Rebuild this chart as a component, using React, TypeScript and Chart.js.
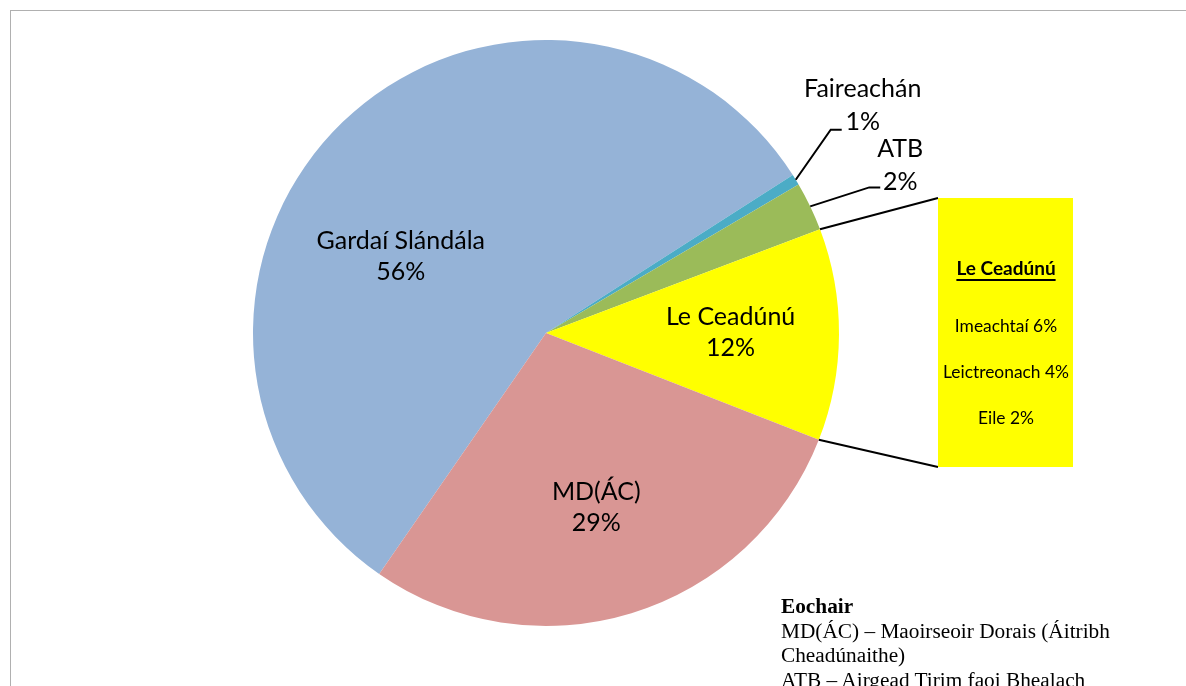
import React, { useEffect, useRef } from "react";
import { Chart, registerables } from "chart.js";

Chart.register(...registerables);

// ---- data ----
const categories = ["Gardaí Slándála", "Faireachán", "ATB", "Le Ceadúnú", "MD(ÁC)"];
const shares = [56.3, 0.6, 2.7, 11.7, 28.7];
const shareLabels = ["56%", "1%", "2%", "12%", "29%"];
const colours = ["#95B3D7", "#4BACC6", "#9BBB59", "#FFFF00", "#D99694"];
const breakdownTitle = "Le Ceadúnú";
const breakdownItems = ["Imeachtaí 6%", "Leictreonach 4%", "Eile 2%"];
const keyTitle = "Eochair";
const keyLines = [
  "MD(ÁC) – Maoirseoir Dorais (Áitribh",
  "Cheadúnaithe)",
  "ATB – Airgead Tirim faoi Bhealach",
];

const FONT = "Lato, 'Open Sans', sans-serif";

// label placement: inside labels by radius fraction & angle shift (deg); outside by leader offsets
const inside: Record<number, { f: number; d: number }> = {
  0: { f: 0.56, d: -18.3 },
  3: { f: 0.63, d: -0.6 },
  4: { f: 0.62, d: 0.9 },
};
const outside: Record<number, { ex: number; ey: number; hx: number; tx: number; ty: number }> = {
  1: { ex: 35, ey: -50, hx: 11, tx: 67, ty: -91 },
  2: { ex: 59, ey: -19, hx: 11, tx: 90, ty: -57 },
};

const BOX = { x: 938, y: 198, w: 135, h: 269 };

const labelPlugin = {
  id: "pieLabels",
  afterDraw(chart: any) {
    const ctx = chart.ctx as CanvasRenderingContext2D;
    const meta = chart.getDatasetMeta(0);
    ctx.save();
    ctx.fillStyle = "#000";
    ctx.strokeStyle = "#000";
    ctx.lineWidth = 2;
    ctx.textAlign = "center";
    ctx.textBaseline = "middle";
    ctx.font = `25px ${FONT}`;
    meta.data.forEach((arc: any, i: number) => {
      const p = arc.getProps(["x", "y", "startAngle", "endAngle", "outerRadius"], true);
      const mid = (p.startAngle + p.endAngle) / 2;
      if (inside[i]) {
        const a = mid + (inside[i].d * Math.PI) / 180;
        const r = p.outerRadius * inside[i].f;
        const cx = p.x + r * Math.cos(a);
        const cy = p.y + r * Math.sin(a);
        ctx.fillText(categories[i], cx, cy - 15.5);
        ctx.fillText(shareLabels[i], cx, cy + 15.5);
      } else if (outside[i]) {
        const o = outside[i];
        const sx = p.x + p.outerRadius * Math.cos(mid);
        const sy = p.y + p.outerRadius * Math.sin(mid);
        ctx.beginPath();
        ctx.moveTo(sx, sy);
        ctx.lineTo(sx + o.ex, sy + o.ey);
        ctx.lineTo(sx + o.ex + o.hx, sy + o.ey);
        ctx.stroke();
        const tx = sx + o.tx;
        const ty = sy + o.ty;
        ctx.fillText(categories[i], tx, ty);
        ctx.fillText(shareLabels[i], tx, ty + 33);
      }
    });
    // breakdown box for Le Ceadúnú
    const lc = meta.data[3].getProps(["x", "y", "startAngle", "endAngle", "outerRadius"], true);
    const p1x = lc.x + lc.outerRadius * Math.cos(lc.startAngle);
    const p1y = lc.y + lc.outerRadius * Math.sin(lc.startAngle);
    const p2x = lc.x + lc.outerRadius * Math.cos(lc.endAngle);
    const p2y = lc.y + lc.outerRadius * Math.sin(lc.endAngle);
    ctx.beginPath();
    ctx.moveTo(p1x, p1y);
    ctx.lineTo(BOX.x, BOX.y);
    ctx.moveTo(p2x, p2y);
    ctx.lineTo(BOX.x, BOX.y + BOX.h);
    ctx.stroke();
    ctx.fillStyle = colours[3];
    ctx.fillRect(BOX.x, BOX.y, BOX.w, BOX.h);
    ctx.fillStyle = "#000";
    const bx = BOX.x + BOX.w / 2 + 0.5;
    ctx.font = `bold 19px ${FONT}`;
    ctx.fillText(breakdownTitle, bx, 269);
    const tw = ctx.measureText(breakdownTitle).width;
    ctx.fillRect(bx - tw / 2, 279, tw, 2);
    ctx.font = `17.4px ${FONT}`;
    breakdownItems.forEach((t, k) => ctx.fillText(t, bx, 326 + k * 46));
    ctx.restore();
  },
};

export default function App() {
  const ref = useRef<HTMLCanvasElement>(null);
  useEffect(() => {
    const chart = new Chart(ref.current!, {
      type: "pie",
      data: {
        labels: categories,
        datasets: [
          {
            data: shares,
            backgroundColor: colours,
            borderWidth: 0,
          },
        ],
      },
      options: {
        animation: false,
        responsive: false,
        rotation: 214.7,
        layout: { padding: { top: 40, bottom: 60, left: 253, right: 347 } },
        plugins: {
          legend: { display: false },
          title: { display: false },
          tooltip: { enabled: false },
        },
      },
      plugins: [labelPlugin],
    });
    return () => chart.destroy();
  }, []);

  return (
    <div
      style={{
        position: "fixed",
        left: 0,
        top: 0,
        width: 1186,
        height: 686,
        overflow: "hidden",
        background: "#fff",
      }}
    >
      <div
        style={{
          position: "absolute",
          left: 10,
          top: 10,
          width: 1300,
          height: 900,
          border: "1px solid #b0b0b0",
        }}
      />
      <canvas
        ref={ref}
        width={1186}
        height={686}
        style={{ position: "absolute", left: 0, top: 0, width: 1186, height: 686 }}
      />
      <div
        style={{
          position: "absolute",
          left: 781,
          top: 594,
          fontFamily: "'Liberation Serif', 'Times New Roman', serif",
          fontSize: 21.3,
          lineHeight: "24.5px",
          color: "#000",
          whiteSpace: "nowrap",
        }}
      >
        <div style={{ fontWeight: "bold" }}>{keyTitle}</div>
        {keyLines.map((l, i) => (
          <div key={i}>{l}</div>
        ))}
      </div>
    </div>
  );
}
